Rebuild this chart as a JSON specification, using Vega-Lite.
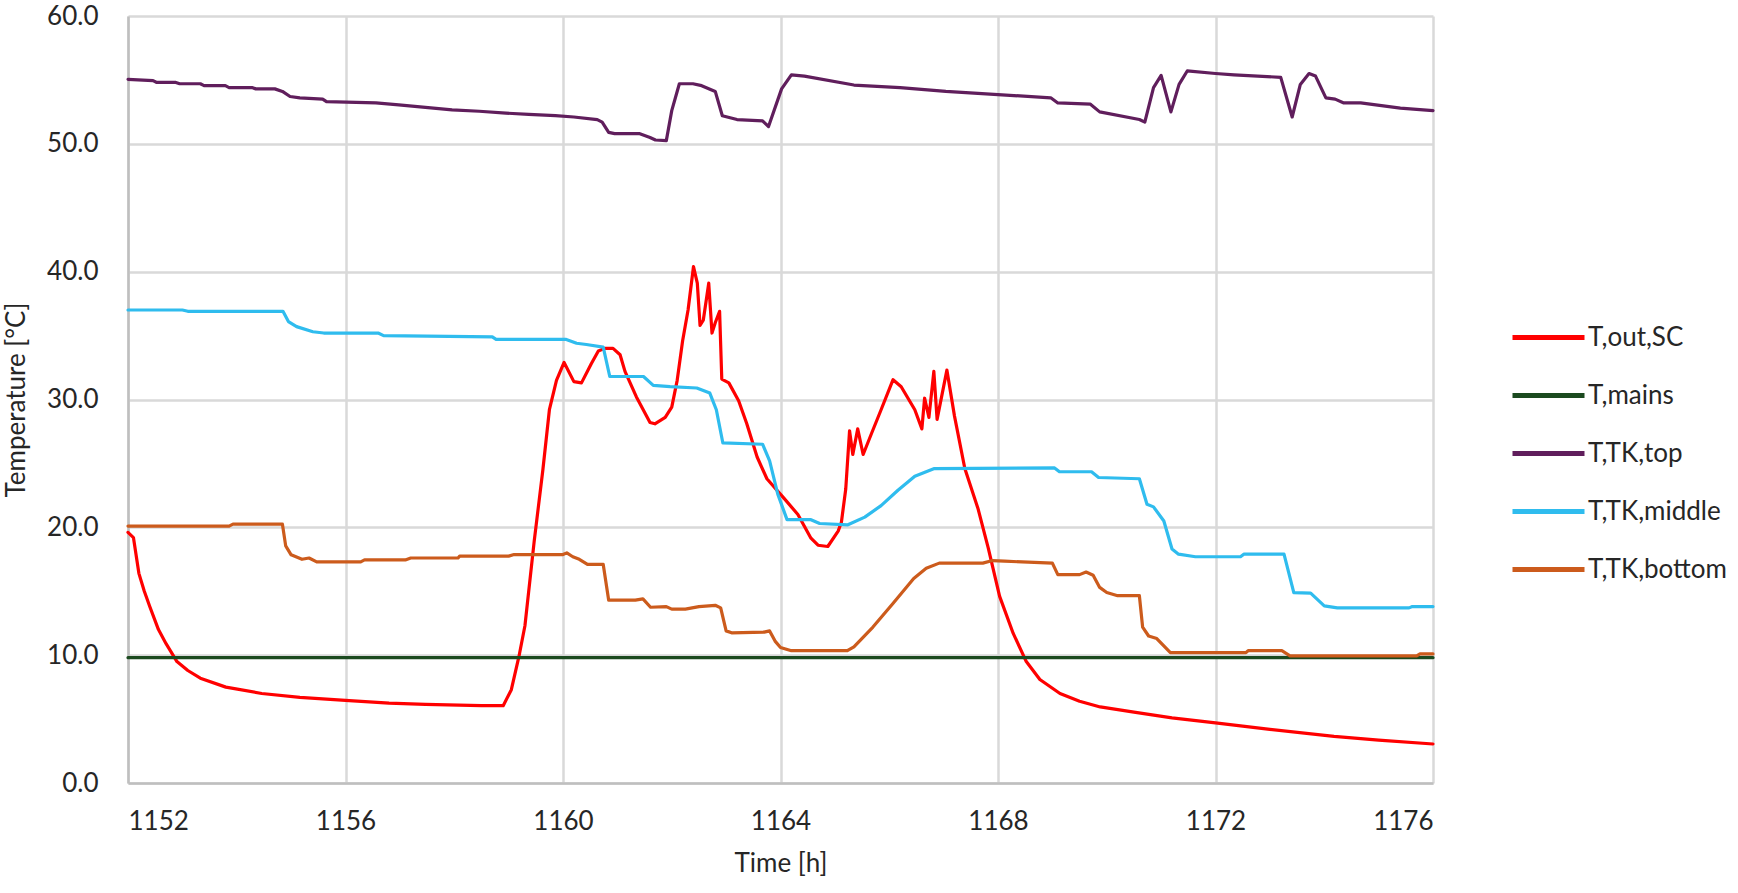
{
  "$schema": "https://vega.github.io/schema/vega-lite/v6.json",
  "width": 1305,
  "height": 767,
  "autosize": {"type": "none"},
  "padding": {"left": 128, "top": 16, "right": 305, "bottom": 110},
  "background": "white",
  "config": {
    "font": "Lato",
    "view": {"stroke": null},
    "axis": {
      "grid": true,
      "gridColor": "#d9d9d9",
      "gridWidth": 2.5,
      "ticks": false,
      "domainColor": "#bfbfbf",
      "domainWidth": 2.5,
      "labelFontSize": 26,
      "labelColor": "#262626",
      "titleFontSize": 26,
      "titleColor": "#262626",
      "titleFontWeight": "normal"
    },
    "legend": {
      "labelFontSize": 26,
      "labelColor": "#262626",
      "labelLimit": 300
    }
  },
  "data": {
    "values": [
      {"series": "T,out,SC", "t": 1152.0, "v": 19.6},
      {"series": "T,out,SC", "t": 1152.1, "v": 19.2},
      {"series": "T,out,SC", "t": 1152.2, "v": 16.4},
      {"series": "T,out,SC", "t": 1152.3, "v": 15.0},
      {"series": "T,out,SC", "t": 1152.4, "v": 13.8},
      {"series": "T,out,SC", "t": 1152.56, "v": 12.0},
      {"series": "T,out,SC", "t": 1152.7, "v": 10.9},
      {"series": "T,out,SC", "t": 1152.9, "v": 9.5},
      {"series": "T,out,SC", "t": 1153.1, "v": 8.8},
      {"series": "T,out,SC", "t": 1153.33, "v": 8.2},
      {"series": "T,out,SC", "t": 1153.8, "v": 7.5},
      {"series": "T,out,SC", "t": 1154.46, "v": 7.0},
      {"series": "T,out,SC", "t": 1155.16, "v": 6.7},
      {"series": "T,out,SC", "t": 1156.07, "v": 6.45},
      {"series": "T,out,SC", "t": 1156.8, "v": 6.25},
      {"series": "T,out,SC", "t": 1157.47, "v": 6.15},
      {"series": "T,out,SC", "t": 1158.5, "v": 6.05},
      {"series": "T,out,SC", "t": 1158.9, "v": 6.05},
      {"series": "T,out,SC", "t": 1159.05, "v": 7.3},
      {"series": "T,out,SC", "t": 1159.19, "v": 9.9},
      {"series": "T,out,SC", "t": 1159.3, "v": 12.3},
      {"series": "T,out,SC", "t": 1159.47, "v": 18.9},
      {"series": "T,out,SC", "t": 1159.63, "v": 24.5},
      {"series": "T,out,SC", "t": 1159.75, "v": 29.2},
      {"series": "T,out,SC", "t": 1159.88, "v": 31.5},
      {"series": "T,out,SC", "t": 1160.02, "v": 32.9},
      {"series": "T,out,SC", "t": 1160.2, "v": 31.4},
      {"series": "T,out,SC", "t": 1160.34, "v": 31.3},
      {"series": "T,out,SC", "t": 1160.52, "v": 32.8},
      {"series": "T,out,SC", "t": 1160.65, "v": 33.8},
      {"series": "T,out,SC", "t": 1160.77, "v": 34.0},
      {"series": "T,out,SC", "t": 1160.92, "v": 34.0},
      {"series": "T,out,SC", "t": 1161.05, "v": 33.5},
      {"series": "T,out,SC", "t": 1161.14, "v": 32.2},
      {"series": "T,out,SC", "t": 1161.35, "v": 30.2},
      {"series": "T,out,SC", "t": 1161.6, "v": 28.2},
      {"series": "T,out,SC", "t": 1161.69, "v": 28.1},
      {"series": "T,out,SC", "t": 1161.88, "v": 28.6},
      {"series": "T,out,SC", "t": 1162.0, "v": 29.4},
      {"series": "T,out,SC", "t": 1162.1, "v": 31.5},
      {"series": "T,out,SC", "t": 1162.2, "v": 34.6},
      {"series": "T,out,SC", "t": 1162.3, "v": 37.0},
      {"series": "T,out,SC", "t": 1162.4, "v": 40.4},
      {"series": "T,out,SC", "t": 1162.47, "v": 39.1},
      {"series": "T,out,SC", "t": 1162.52, "v": 35.8},
      {"series": "T,out,SC", "t": 1162.58, "v": 36.2},
      {"series": "T,out,SC", "t": 1162.68, "v": 39.1},
      {"series": "T,out,SC", "t": 1162.74, "v": 35.2},
      {"series": "T,out,SC", "t": 1162.8, "v": 36.0},
      {"series": "T,out,SC", "t": 1162.88, "v": 36.9},
      {"series": "T,out,SC", "t": 1162.92, "v": 31.6},
      {"series": "T,out,SC", "t": 1163.05, "v": 31.3},
      {"series": "T,out,SC", "t": 1163.23, "v": 29.9},
      {"series": "T,out,SC", "t": 1163.38, "v": 28.1},
      {"series": "T,out,SC", "t": 1163.57, "v": 25.5},
      {"series": "T,out,SC", "t": 1163.75, "v": 23.8},
      {"series": "T,out,SC", "t": 1164.07, "v": 22.25},
      {"series": "T,out,SC", "t": 1164.32, "v": 21.0},
      {"series": "T,out,SC", "t": 1164.56, "v": 19.15},
      {"series": "T,out,SC", "t": 1164.69, "v": 18.6},
      {"series": "T,out,SC", "t": 1164.87, "v": 18.5},
      {"series": "T,out,SC", "t": 1165.06, "v": 19.7},
      {"series": "T,out,SC", "t": 1165.12, "v": 20.4},
      {"series": "T,out,SC", "t": 1165.2, "v": 23.0},
      {"series": "T,out,SC", "t": 1165.27, "v": 27.55},
      {"series": "T,out,SC", "t": 1165.33, "v": 25.7},
      {"series": "T,out,SC", "t": 1165.42, "v": 27.7},
      {"series": "T,out,SC", "t": 1165.52, "v": 25.7},
      {"series": "T,out,SC", "t": 1165.67, "v": 27.3},
      {"series": "T,out,SC", "t": 1165.85, "v": 29.2},
      {"series": "T,out,SC", "t": 1166.07, "v": 31.55},
      {"series": "T,out,SC", "t": 1166.22, "v": 31.0},
      {"series": "T,out,SC", "t": 1166.47, "v": 29.2},
      {"series": "T,out,SC", "t": 1166.6, "v": 27.7},
      {"series": "T,out,SC", "t": 1166.65, "v": 30.1},
      {"series": "T,out,SC", "t": 1166.73, "v": 28.6},
      {"series": "T,out,SC", "t": 1166.82, "v": 32.2},
      {"series": "T,out,SC", "t": 1166.88, "v": 28.45},
      {"series": "T,out,SC", "t": 1167.06, "v": 32.3},
      {"series": "T,out,SC", "t": 1167.2, "v": 28.7},
      {"series": "T,out,SC", "t": 1167.39, "v": 24.6},
      {"series": "T,out,SC", "t": 1167.63, "v": 21.5},
      {"series": "T,out,SC", "t": 1167.82, "v": 18.4},
      {"series": "T,out,SC", "t": 1168.03, "v": 14.6},
      {"series": "T,out,SC", "t": 1168.28, "v": 11.7},
      {"series": "T,out,SC", "t": 1168.52, "v": 9.5},
      {"series": "T,out,SC", "t": 1168.77, "v": 8.1},
      {"series": "T,out,SC", "t": 1169.14, "v": 7.0},
      {"series": "T,out,SC", "t": 1169.5, "v": 6.4},
      {"series": "T,out,SC", "t": 1169.88, "v": 5.95},
      {"series": "T,out,SC", "t": 1170.5, "v": 5.55},
      {"series": "T,out,SC", "t": 1171.2, "v": 5.1},
      {"series": "T,out,SC", "t": 1172.0, "v": 4.7},
      {"series": "T,out,SC", "t": 1173.0, "v": 4.2},
      {"series": "T,out,SC", "t": 1174.18, "v": 3.65},
      {"series": "T,out,SC", "t": 1175.0, "v": 3.35},
      {"series": "T,out,SC", "t": 1176.0, "v": 3.05},

      {"series": "T,mains", "t": 1152.0, "v": 9.8},
      {"series": "T,mains", "t": 1176.0, "v": 9.8},

      {"series": "T,TK,top", "t": 1152.0, "v": 55.05},
      {"series": "T,TK,top", "t": 1152.46, "v": 54.95},
      {"series": "T,TK,top", "t": 1152.53, "v": 54.8},
      {"series": "T,TK,top", "t": 1152.88, "v": 54.8},
      {"series": "T,TK,top", "t": 1152.95, "v": 54.7},
      {"series": "T,TK,top", "t": 1153.33, "v": 54.7},
      {"series": "T,TK,top", "t": 1153.4, "v": 54.55},
      {"series": "T,TK,top", "t": 1153.79, "v": 54.55},
      {"series": "T,TK,top", "t": 1153.86, "v": 54.4},
      {"series": "T,TK,top", "t": 1154.28, "v": 54.4},
      {"series": "T,TK,top", "t": 1154.35, "v": 54.3},
      {"series": "T,TK,top", "t": 1154.7, "v": 54.3},
      {"series": "T,TK,top", "t": 1154.84, "v": 54.1},
      {"series": "T,TK,top", "t": 1154.98, "v": 53.7},
      {"series": "T,TK,top", "t": 1155.16, "v": 53.6},
      {"series": "T,TK,top", "t": 1155.58, "v": 53.5},
      {"series": "T,TK,top", "t": 1155.65, "v": 53.3},
      {"series": "T,TK,top", "t": 1156.56, "v": 53.2},
      {"series": "T,TK,top", "t": 1156.98, "v": 53.05},
      {"series": "T,TK,top", "t": 1157.47, "v": 52.85},
      {"series": "T,TK,top", "t": 1157.96, "v": 52.65},
      {"series": "T,TK,top", "t": 1158.46, "v": 52.55},
      {"series": "T,TK,top", "t": 1158.95, "v": 52.4},
      {"series": "T,TK,top", "t": 1159.37, "v": 52.3},
      {"series": "T,TK,top", "t": 1159.86, "v": 52.2},
      {"series": "T,TK,top", "t": 1160.2, "v": 52.1},
      {"series": "T,TK,top", "t": 1160.63, "v": 51.9},
      {"series": "T,TK,top", "t": 1160.72, "v": 51.7},
      {"series": "T,TK,top", "t": 1160.84, "v": 50.9},
      {"series": "T,TK,top", "t": 1160.95, "v": 50.8},
      {"series": "T,TK,top", "t": 1161.4, "v": 50.8},
      {"series": "T,TK,top", "t": 1161.6, "v": 50.5},
      {"series": "T,TK,top", "t": 1161.7, "v": 50.3},
      {"series": "T,TK,top", "t": 1161.9, "v": 50.25},
      {"series": "T,TK,top", "t": 1162.0, "v": 52.6},
      {"series": "T,TK,top", "t": 1162.14, "v": 54.7},
      {"series": "T,TK,top", "t": 1162.39, "v": 54.7},
      {"series": "T,TK,top", "t": 1162.55, "v": 54.55},
      {"series": "T,TK,top", "t": 1162.8, "v": 54.1},
      {"series": "T,TK,top", "t": 1162.93, "v": 52.2},
      {"series": "T,TK,top", "t": 1163.2, "v": 51.9},
      {"series": "T,TK,top", "t": 1163.67, "v": 51.8},
      {"series": "T,TK,top", "t": 1163.78, "v": 51.35},
      {"series": "T,TK,top", "t": 1164.02, "v": 54.3},
      {"series": "T,TK,top", "t": 1164.2, "v": 55.4},
      {"series": "T,TK,top", "t": 1164.44, "v": 55.3},
      {"series": "T,TK,top", "t": 1165.35, "v": 54.6},
      {"series": "T,TK,top", "t": 1166.2, "v": 54.4},
      {"series": "T,TK,top", "t": 1167.04, "v": 54.1},
      {"series": "T,TK,top", "t": 1168.0, "v": 53.85},
      {"series": "T,TK,top", "t": 1168.97, "v": 53.6},
      {"series": "T,TK,top", "t": 1169.1, "v": 53.2},
      {"series": "T,TK,top", "t": 1169.7, "v": 53.1},
      {"series": "T,TK,top", "t": 1169.87, "v": 52.5},
      {"series": "T,TK,top", "t": 1170.6, "v": 51.9},
      {"series": "T,TK,top", "t": 1170.7, "v": 51.7},
      {"series": "T,TK,top", "t": 1170.86, "v": 54.4},
      {"series": "T,TK,top", "t": 1171.0, "v": 55.35},
      {"series": "T,TK,top", "t": 1171.18, "v": 52.5},
      {"series": "T,TK,top", "t": 1171.33, "v": 54.65},
      {"series": "T,TK,top", "t": 1171.48, "v": 55.7},
      {"series": "T,TK,top", "t": 1172.0, "v": 55.5},
      {"series": "T,TK,top", "t": 1172.34, "v": 55.4},
      {"series": "T,TK,top", "t": 1173.2, "v": 55.2},
      {"series": "T,TK,top", "t": 1173.41, "v": 52.1},
      {"series": "T,TK,top", "t": 1173.56, "v": 54.65},
      {"series": "T,TK,top", "t": 1173.72, "v": 55.5},
      {"series": "T,TK,top", "t": 1173.84, "v": 55.3},
      {"series": "T,TK,top", "t": 1174.03, "v": 53.6},
      {"series": "T,TK,top", "t": 1174.2, "v": 53.5},
      {"series": "T,TK,top", "t": 1174.36, "v": 53.2},
      {"series": "T,TK,top", "t": 1174.67, "v": 53.2},
      {"series": "T,TK,top", "t": 1175.4, "v": 52.8},
      {"series": "T,TK,top", "t": 1176.0, "v": 52.6},

      {"series": "T,TK,middle", "t": 1152.0, "v": 37.0},
      {"series": "T,TK,middle", "t": 1153.0, "v": 37.0},
      {"series": "T,TK,middle", "t": 1153.1, "v": 36.9},
      {"series": "T,TK,middle", "t": 1154.85, "v": 36.9},
      {"series": "T,TK,middle", "t": 1154.95, "v": 36.1},
      {"series": "T,TK,middle", "t": 1155.1, "v": 35.7},
      {"series": "T,TK,middle", "t": 1155.4, "v": 35.3},
      {"series": "T,TK,middle", "t": 1155.6, "v": 35.2},
      {"series": "T,TK,middle", "t": 1156.6, "v": 35.2},
      {"series": "T,TK,middle", "t": 1156.7, "v": 35.0},
      {"series": "T,TK,middle", "t": 1158.7, "v": 34.9},
      {"series": "T,TK,middle", "t": 1158.77, "v": 34.7},
      {"series": "T,TK,middle", "t": 1160.06, "v": 34.7},
      {"series": "T,TK,middle", "t": 1160.25, "v": 34.4},
      {"series": "T,TK,middle", "t": 1160.43, "v": 34.3},
      {"series": "T,TK,middle", "t": 1160.74, "v": 34.1},
      {"series": "T,TK,middle", "t": 1160.86, "v": 31.8},
      {"series": "T,TK,middle", "t": 1161.48, "v": 31.8},
      {"series": "T,TK,middle", "t": 1161.66, "v": 31.1},
      {"series": "T,TK,middle", "t": 1161.97, "v": 31.0},
      {"series": "T,TK,middle", "t": 1162.46, "v": 30.9},
      {"series": "T,TK,middle", "t": 1162.7, "v": 30.5},
      {"series": "T,TK,middle", "t": 1162.82, "v": 29.2},
      {"series": "T,TK,middle", "t": 1162.94, "v": 26.6},
      {"series": "T,TK,middle", "t": 1163.67, "v": 26.5},
      {"series": "T,TK,middle", "t": 1163.8, "v": 25.2},
      {"series": "T,TK,middle", "t": 1163.95, "v": 22.6},
      {"series": "T,TK,middle", "t": 1164.12, "v": 20.6},
      {"series": "T,TK,middle", "t": 1164.56, "v": 20.6},
      {"series": "T,TK,middle", "t": 1164.72, "v": 20.3},
      {"series": "T,TK,middle", "t": 1165.24, "v": 20.2},
      {"series": "T,TK,middle", "t": 1165.55, "v": 20.8},
      {"series": "T,TK,middle", "t": 1165.85, "v": 21.7},
      {"series": "T,TK,middle", "t": 1166.16, "v": 22.9},
      {"series": "T,TK,middle", "t": 1166.47, "v": 24.0},
      {"series": "T,TK,middle", "t": 1166.83, "v": 24.6},
      {"series": "T,TK,middle", "t": 1169.04, "v": 24.65},
      {"series": "T,TK,middle", "t": 1169.13, "v": 24.35},
      {"series": "T,TK,middle", "t": 1169.72, "v": 24.35},
      {"series": "T,TK,middle", "t": 1169.85, "v": 23.9},
      {"series": "T,TK,middle", "t": 1170.6, "v": 23.8},
      {"series": "T,TK,middle", "t": 1170.74, "v": 21.8},
      {"series": "T,TK,middle", "t": 1170.86, "v": 21.6},
      {"series": "T,TK,middle", "t": 1171.05, "v": 20.5},
      {"series": "T,TK,middle", "t": 1171.2, "v": 18.3},
      {"series": "T,TK,middle", "t": 1171.32, "v": 17.9},
      {"series": "T,TK,middle", "t": 1171.63, "v": 17.7},
      {"series": "T,TK,middle", "t": 1172.46, "v": 17.7},
      {"series": "T,TK,middle", "t": 1172.52, "v": 17.9},
      {"series": "T,TK,middle", "t": 1173.26, "v": 17.9},
      {"series": "T,TK,middle", "t": 1173.44, "v": 14.9},
      {"series": "T,TK,middle", "t": 1173.75, "v": 14.85},
      {"series": "T,TK,middle", "t": 1174.0, "v": 13.85},
      {"series": "T,TK,middle", "t": 1174.24, "v": 13.7},
      {"series": "T,TK,middle", "t": 1175.56, "v": 13.7},
      {"series": "T,TK,middle", "t": 1175.62, "v": 13.8},
      {"series": "T,TK,middle", "t": 1176.0, "v": 13.8},

      {"series": "T,TK,bottom", "t": 1152.0, "v": 20.1},
      {"series": "T,TK,bottom", "t": 1153.86, "v": 20.1},
      {"series": "T,TK,bottom", "t": 1153.93, "v": 20.25},
      {"series": "T,TK,bottom", "t": 1154.84, "v": 20.25},
      {"series": "T,TK,bottom", "t": 1154.9, "v": 18.55},
      {"series": "T,TK,bottom", "t": 1155.0, "v": 17.85},
      {"series": "T,TK,bottom", "t": 1155.2, "v": 17.5},
      {"series": "T,TK,bottom", "t": 1155.33, "v": 17.6},
      {"series": "T,TK,bottom", "t": 1155.47, "v": 17.3},
      {"series": "T,TK,bottom", "t": 1156.28, "v": 17.3},
      {"series": "T,TK,bottom", "t": 1156.35, "v": 17.45},
      {"series": "T,TK,bottom", "t": 1157.1, "v": 17.45},
      {"series": "T,TK,bottom", "t": 1157.2, "v": 17.6},
      {"series": "T,TK,bottom", "t": 1158.07, "v": 17.6},
      {"series": "T,TK,bottom", "t": 1158.1, "v": 17.75},
      {"series": "T,TK,bottom", "t": 1159.0, "v": 17.75},
      {"series": "T,TK,bottom", "t": 1159.1, "v": 17.87},
      {"series": "T,TK,bottom", "t": 1160.0, "v": 17.87},
      {"series": "T,TK,bottom", "t": 1160.07, "v": 18.0},
      {"series": "T,TK,bottom", "t": 1160.18, "v": 17.7},
      {"series": "T,TK,bottom", "t": 1160.3, "v": 17.5},
      {"series": "T,TK,bottom", "t": 1160.45, "v": 17.1},
      {"series": "T,TK,bottom", "t": 1160.74, "v": 17.1},
      {"series": "T,TK,bottom", "t": 1160.84, "v": 14.3},
      {"series": "T,TK,bottom", "t": 1161.33, "v": 14.3},
      {"series": "T,TK,bottom", "t": 1161.47, "v": 14.4},
      {"series": "T,TK,bottom", "t": 1161.61, "v": 13.75},
      {"series": "T,TK,bottom", "t": 1161.9, "v": 13.8},
      {"series": "T,TK,bottom", "t": 1162.0, "v": 13.6},
      {"series": "T,TK,bottom", "t": 1162.25, "v": 13.6},
      {"series": "T,TK,bottom", "t": 1162.5, "v": 13.8},
      {"series": "T,TK,bottom", "t": 1162.8, "v": 13.9},
      {"series": "T,TK,bottom", "t": 1162.9, "v": 13.7},
      {"series": "T,TK,bottom", "t": 1163.0, "v": 11.9},
      {"series": "T,TK,bottom", "t": 1163.1, "v": 11.75},
      {"series": "T,TK,bottom", "t": 1163.7, "v": 11.8},
      {"series": "T,TK,bottom", "t": 1163.8, "v": 11.9},
      {"series": "T,TK,bottom", "t": 1163.9, "v": 11.1},
      {"series": "T,TK,bottom", "t": 1164.0, "v": 10.6},
      {"series": "T,TK,bottom", "t": 1164.2, "v": 10.35},
      {"series": "T,TK,bottom", "t": 1165.23, "v": 10.35},
      {"series": "T,TK,bottom", "t": 1165.35, "v": 10.65},
      {"series": "T,TK,bottom", "t": 1165.7, "v": 12.2},
      {"series": "T,TK,bottom", "t": 1166.06, "v": 14.0},
      {"series": "T,TK,bottom", "t": 1166.45, "v": 16.0},
      {"series": "T,TK,bottom", "t": 1166.68, "v": 16.8},
      {"series": "T,TK,bottom", "t": 1166.92, "v": 17.2},
      {"series": "T,TK,bottom", "t": 1167.72, "v": 17.2},
      {"series": "T,TK,bottom", "t": 1167.9, "v": 17.4},
      {"series": "T,TK,bottom", "t": 1168.12, "v": 17.35},
      {"series": "T,TK,bottom", "t": 1169.0, "v": 17.2},
      {"series": "T,TK,bottom", "t": 1169.1, "v": 16.3},
      {"series": "T,TK,bottom", "t": 1169.5, "v": 16.3},
      {"series": "T,TK,bottom", "t": 1169.62, "v": 16.5},
      {"series": "T,TK,bottom", "t": 1169.75, "v": 16.25},
      {"series": "T,TK,bottom", "t": 1169.87, "v": 15.3},
      {"series": "T,TK,bottom", "t": 1170.0, "v": 14.9},
      {"series": "T,TK,bottom", "t": 1170.2, "v": 14.65},
      {"series": "T,TK,bottom", "t": 1170.6, "v": 14.65},
      {"series": "T,TK,bottom", "t": 1170.66, "v": 12.2},
      {"series": "T,TK,bottom", "t": 1170.77, "v": 11.5},
      {"series": "T,TK,bottom", "t": 1170.92, "v": 11.3},
      {"series": "T,TK,bottom", "t": 1171.17, "v": 10.2},
      {"series": "T,TK,bottom", "t": 1172.56, "v": 10.2},
      {"series": "T,TK,bottom", "t": 1172.6, "v": 10.35},
      {"series": "T,TK,bottom", "t": 1173.22, "v": 10.35},
      {"series": "T,TK,bottom", "t": 1173.37, "v": 9.95},
      {"series": "T,TK,bottom", "t": 1175.7, "v": 9.95},
      {"series": "T,TK,bottom", "t": 1175.76, "v": 10.1},
      {"series": "T,TK,bottom", "t": 1176.0, "v": 10.1}
    ]
  },
  "mark": {"type": "line", "strokeWidth": 3.2, "strokeJoin": "round", "strokeCap": "round"},
  "encoding": {
    "x": {
      "field": "t",
      "type": "quantitative",
      "scale": {"domain": [1152, 1176], "nice": false, "zero": false},
      "axis": {
        "values": [1152, 1156, 1160, 1164, 1168, 1172, 1176],
        "format": "d",
        "title": "Time [h]",
        "labelPadding": 25,
        "titlePadding": 16
      }
    },
    "y": {
      "field": "v",
      "type": "quantitative",
      "scale": {"domain": [0, 60], "nice": false},
      "axis": {
        "values": [0, 10, 20, 30, 40, 50, 60],
        "format": ".1f",
        "title": "Temperature [°C]",
        "labelPadding": 30,
        "titlePadding": 17
      }
    },
    "color": {
      "field": "series",
      "type": "nominal",
      "scale": {
        "domain": ["T,out,SC", "T,mains", "T,TK,top", "T,TK,middle", "T,TK,bottom"],
        "range": ["#ff0000", "#1b4a1f", "#601e5c", "#2fbcee", "#cc5b1c"]
      },
      "legend": {
        "title": null,
        "orient": "none",
        "legendX": 1382,
        "legendY": 283,
        "symbolType": "stroke",
        "symbolSize": 5184,
        "symbolStrokeWidth": 5,
        "labelOffset": 1,
        "rowPadding": 6
      }
    }
  }
}
